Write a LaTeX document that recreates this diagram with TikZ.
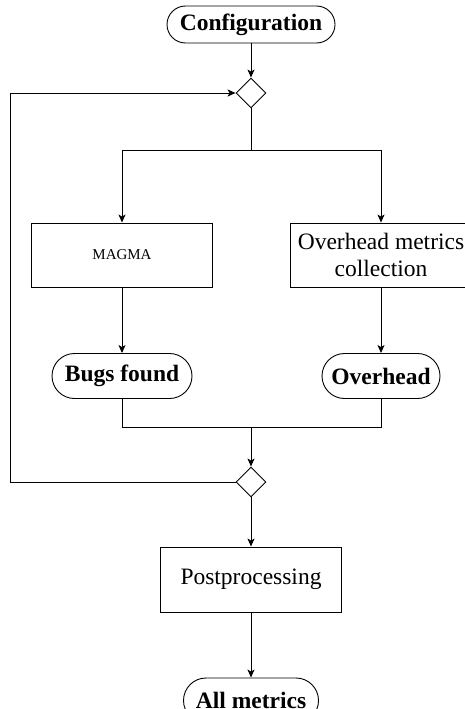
\documentclass[tikz,border=0pt]{standalone}
\usepackage{fontspec}
\setmainfont{Liberation Serif}
\usetikzlibrary{shapes.geometric,arrows.meta}
\begin{document}
\begin{tikzpicture}[x=1pt,y=-1pt,
  font=\fontsize{23.5}{27}\selectfont,
  every path/.style={line width=0.9pt},
  terminal/.style={draw, rectangle, inner sep=0pt, font=\fontsize{23.5}{27}\selectfont\bfseries},
  process/.style={draw, rectangle, inner sep=0pt, minimum width=181pt, minimum height=64pt, align=center},
  decision/.style={draw, diamond, inner sep=0pt, minimum width=30pt, minimum height=30pt},
  arr/.style={-{Stealth[length=8pt,width=7pt,inset=2pt]}}]
\useasboundingbox (0,0) rectangle (465,709);

% start / end terminals
\node[terminal, minimum width=168pt, minimum height=37pt, rounded corners=18.5pt] (conf) at (251,24.5) {Configuration};
\node[decision] (d1) at (251,93) {};

% the two branches
\node[process] (magma) at (122,255) {{\fontsize{15}{18}\selectfont MAGMA}};
\node[process] (ohc) at (381,255) {Overhead metrics\\collection};
\node[terminal, minimum width=140pt, minimum height=45pt, rounded corners=22.5pt] (bugs) at (122,376) {Bugs found};
\node[terminal, minimum width=118pt, minimum height=45pt, rounded corners=22.5pt] (ovh) at (381,376) {Overhead};

\node[decision] (d2) at (251,482) {};
\node[process, minimum height=65pt] (post) at (251,579.5) {Postprocessing};
\node[terminal, minimum width=135pt, minimum height=45pt, rounded corners=22.5pt] (all) at (251,700.5) {All metrics};

% routing points
\coordinate (split) at (251,150);
\coordinate (join) at (251,427);
\coordinate (loopb) at (10,482);
\coordinate (loopt) at (10,93);

\draw[arr] (conf) -- (d1);
\draw (d1) -- (split);
\draw[arr] (split) -| (magma);
\draw[arr] (split) -| (ohc);
\draw[arr] (magma) -- (bugs);
\draw[arr] (ohc) -- (ovh);
\draw (bugs) |- (join);
\draw (ovh) |- (join);
\draw[arr] (join) -- (d2);
\draw[arr] (d2) -- (post);
\draw[arr] (post) -- (all);
\draw[arr] (d2.west) -- (loopb) -- (loopt) -- (d1.west);
\end{tikzpicture}
\end{document}
